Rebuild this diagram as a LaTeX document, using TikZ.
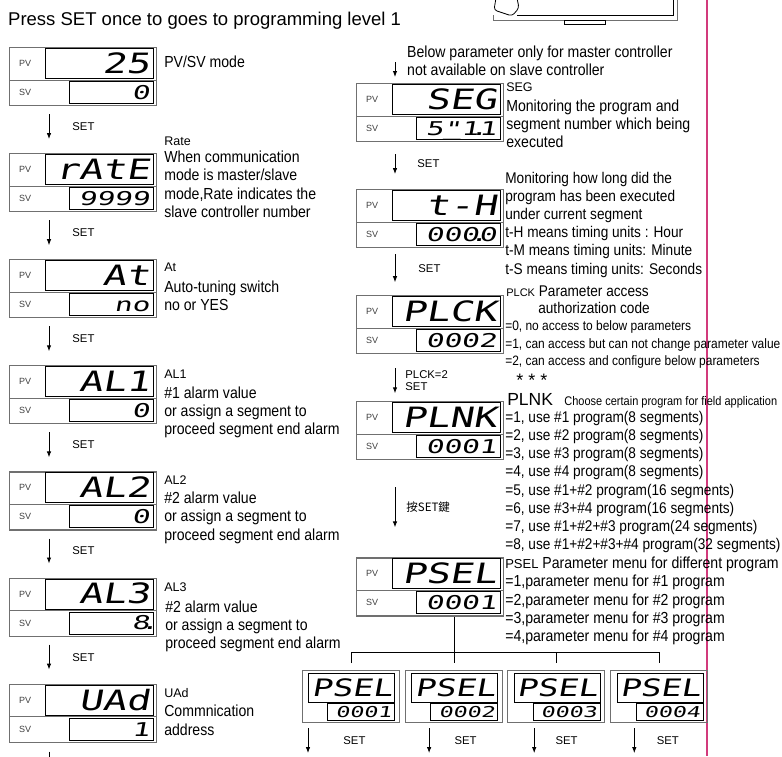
\documentclass[tikz,border=0pt]{standalone}
\usepackage{fontspec}
\setmainfont{Liberation Sans}
\newfontfamily\narrowfont{Liberation Sans}[FakeStretch=0.88]
\newfontfamily\pvfont{DejaVu Sans Mono}[FakeStretch=1.4,FakeSlant=0.18]
\newfontfamily\svfont{DejaVu Sans Mono}[FakeStretch=1.55,FakeSlant=0.18]
\newfontfamily\cjkfont{Noto Sans CJK TC}
\usetikzlibrary{positioning, calc, arrows.meta}
\definecolor{framegray}{HTML}{707070}
\definecolor{pagerule}{HTML}{D23A7C}

% controller front: frame, PV window, SV window
\newcommand{\ctrlpanel}[4]{%
  \node[panel, #2] (#1) {};
  \node[pvwin, anchor=north east] (#1-pv) at ([xshift=-3pt,yshift=-1pt]#1.north east) {#3};
  \node[svwin, anchor=north east] (#1-sv) at ([xshift=-3pt,yshift=-34pt]#1.north east) {#4};
  \draw[divider] ([yshift=-1.5pt]#1-pv.south -| #1.west) -- ([yshift=-1.5pt]#1-pv.south -| #1.east);
  \node[tag, anchor=west] (#1-pvtag) at ([xshift=10pt]#1.west |- #1-pv.west) {PV};
  \node[tag, anchor=west] (#1-svtag) at ([xshift=10pt]#1.west |- #1-sv.west) {SV};
}
% small PSEL front of the program menus
\newcommand{\menupanel}[3]{%
  \node[mpanel, #2] (#1) {};
  \node[mpvwin, anchor=north east] (#1-pv) at ([xshift=-5pt,yshift=-3pt]#1.north east) {PSEL};
  \node[msvwin, anchor=north east] (#1-sv) at ([xshift=-5pt,yshift=-33pt]#1.north east) {#3};
}

\begin{document}
\begin{tikzpicture}[
    x=1pt, y=-1pt,
    panel/.style={rectangle, draw=framegray, line width=1.1pt, minimum width=147pt, minimum height=58pt, inner sep=0pt},
    pvwin/.style={rectangle, draw=black, line width=0.8pt, minimum height=30pt, text width=100pt, inner xsep=4pt, inner ysep=0pt, align=right, text height=20pt, text depth=0pt, font=\pvfont\fontsize{28}{28}\selectfont},
    svwin/.style={rectangle, draw=black, line width=0.8pt, minimum height=22pt, text width=76pt, inner xsep=4pt, inner ysep=0pt, align=right, text height=14pt, text depth=0pt, font=\svfont\fontsize{19}{19}\selectfont},
    mpanel/.style={rectangle, draw=framegray, line width=1.1pt, minimum width=97pt, minimum height=52pt, inner sep=0pt},
    mpvwin/.style={rectangle, draw=black, line width=0.8pt, minimum height=29pt, text width=80pt, inner xsep=3pt, inner ysep=0pt, align=right, text height=17pt, text depth=0pt, font=\pvfont\fontsize{24}{24}\selectfont},
    msvwin/.style={rectangle, draw=black, line width=0.8pt, minimum height=17pt, text width=61pt, inner xsep=3pt, inner ysep=0pt, align=right, text height=11.5pt, text depth=0pt, font=\svfont\fontsize{15}{15}\selectfont},
    divider/.style={draw=framegray, line width=1pt},
    tag/.style={inner sep=0pt, text=black!75, font=\fontsize{9}{10}\selectfont},
    lbl/.style={inner sep=0pt, anchor=north west, font=\fontsize{12.5}{14}\selectfont},
    desc/.style={inner sep=0pt, anchor=north west, align=left, font=\narrowfont\fontsize{16}{18.4}\selectfont},
    descsm/.style={inner sep=0pt, anchor=north west, align=left, font=\narrowfont\fontsize{13.6}{17.5}\selectfont},
    setlbl/.style={inner sep=0pt, align=left, font=\fontsize{11.3}{12.5}\selectfont},
    flow/.style={-{Latex[length=6pt,width=4.5pt]}, line width=0.9pt},
    tree/.style={line width=0.9pt},
  ]
  \useasboundingbox (0,0) rectangle (782,756);
  \fill[white] (0,0) rectangle (782,756);

  % device sketch cut by the top edge, page rule
  \draw[framegray, line width=1pt] (493,15) -- (493,20) -- (677,20) -- (677,-2);
  \draw[line width=0.8pt] (517,15) -- (673,15) -- (673,-2);
  \draw[line width=0.8pt, rounded corners=3pt] (496,-2) -- (494,10) -- (512,16) -- (519,8) -- (517,-2);
  \draw[line width=0.8pt] (564,20) rectangle (605,24);
  \draw[pagerule, line width=1.2pt] (707,0) -- (707,756);

  \node[inner sep=0pt, anchor=north west, font=\fontsize{18.5}{20}\selectfont] (heading) at (8,12) {Press SET once to goes to programming level 1};

  % left column
  \ctrlpanel{pvsv}{at={(9,47)}, anchor=north west}{25}{0}
  \ctrlpanel{rate}{below=47pt of pvsv}{rAtE}{9999}
  \ctrlpanel{atune}{below=47pt of rate}{At}{no}
  \ctrlpanel{alone}{below=47pt of atune}{AL1}{0}
  \ctrlpanel{altwo}{below=47pt of alone}{AL2}{0}
  \ctrlpanel{althree}{below=47pt of altwo}{AL3}{8\makebox[0pt]{.}}
  \ctrlpanel{uad}{below=47pt of althree}{UAd}{1}

  \node[desc] (pvsv-txt) at ([xshift=7pt,yshift=-8.5pt]pvsv.north east) {PV/SV mode};
  \node[lbl] (rate-lbl) at ([xshift=7pt,yshift=16.5pt]rate.north east) {Rate};
  \node[desc, below right=5pt and 0pt of rate-lbl.south west] (rate-txt) {When communication\\mode is master/slave\\mode,Rate indicates the\\slave controller number};
  \node[lbl] (atune-lbl) at ([xshift=7pt,yshift=-3pt]atune.north east) {At};
  \node[desc, below right=9pt and 0pt of atune-lbl.south west] (atune-txt) {Auto-tuning switch\\no or YES};
  \node[lbl] (alone-lbl) at ([xshift=7pt,yshift=-4pt]alone.north east) {AL1};
  \node[desc, below right=8pt and 0pt of alone-lbl.south west] (alone-txt) {\#1 alarm value\\or assign a segment to\\proceed segment end alarm};
  \node[lbl] (altwo-lbl) at ([xshift=7pt,yshift=-4pt]altwo.north east) {AL2};
  \node[desc, below right=7pt and 0pt of altwo-lbl.south west] (altwo-txt) {\#2 alarm value\\or assign a segment to\\proceed segment end alarm};
  \node[lbl] (althree-lbl) at ([xshift=7pt,yshift=-5.5pt]althree.north east) {AL3};
  \node[desc, below right=8pt and 1pt of althree-lbl.south west] (althree-txt) {\#2 alarm value\\or assign a segment to\\proceed segment end alarm};
  \node[lbl] (uad-lbl) at ([xshift=7pt,yshift=-5pt]uad.north east) {UAd};
  \node[desc, below right=7pt and 0pt of uad-lbl.south west] (uad-txt) {Commnication\\address};

  \draw[flow] ([xshift=40pt,yshift=-8pt]pvsv.south west) -- ([xshift=40pt,yshift=14pt]rate.north west) node[setlbl, midway, right=23pt] (set-a) {SET};
  \draw[flow] ([xshift=40pt,yshift=-8pt]rate.south west) -- ([xshift=40pt,yshift=14pt]atune.north west) node[setlbl, midway, right=23pt] (set-b) {SET};
  \draw[flow] ([xshift=40pt,yshift=-8pt]atune.south west) -- ([xshift=40pt,yshift=14pt]alone.north west) node[setlbl, midway, right=23pt] (set-c) {SET};
  \draw[flow] ([xshift=40pt,yshift=-8pt]alone.south west) -- ([xshift=40pt,yshift=14pt]altwo.north west) node[setlbl, midway, right=23pt] (set-d) {SET};
  \draw[flow] ([xshift=40pt,yshift=-8pt]altwo.south west) -- ([xshift=40pt,yshift=14pt]althree.north west) node[setlbl, midway, right=23pt] (set-e) {SET};
  \draw[flow] ([xshift=40pt,yshift=-8pt]althree.south west) -- ([xshift=40pt,yshift=14pt]uad.north west) node[setlbl, midway, right=23pt] (set-f) {SET};
  \draw[line width=0.9pt] ([xshift=40pt,yshift=-9pt]uad.south west) -- ([xshift=40pt,yshift=-22pt]uad.south west);

  % middle column
  \ctrlpanel{seg}{at={(356,83)}, anchor=north west}{SEG}{5\rlap{\_}\symbol{34}1\makebox[0pt]{.}1}
  \ctrlpanel{timer}{below=47pt of seg}{t-H}{000\makebox[0pt]{.}0}
  \ctrlpanel{plck}{below=47pt of timer}{PLCK}{0002}
  \ctrlpanel{plnk}{below=47pt of plck}{PLNK}{0001}
  \ctrlpanel{psel}{below=97pt of plnk}{PSEL}{0001}

  \node[desc] (master-note) at ([xshift=51pt,yshift=37.5pt]seg.north west) {Below parameter only for master controller\\not available on slave controller};
  \node[lbl] (seg-lbl) at ([xshift=2pt,yshift=0pt]seg.north east) {SEG};
  \node[desc, below right=7pt and 0pt of seg-lbl.south west] (seg-txt) {Monitoring the program and\\segment number which being\\executed};
  \node[desc, font=\narrowfont\fontsize{15.5}{18.2}\selectfont] (timer-txt) at ([xshift=1pt,yshift=17.5pt]timer.north east) {Monitoring how long did the\\program has been executed\\under current segment\\t-H means timing units : Hour\\t-M means timing units: Minute\\t-S means timing units: Seconds};
  \node[desc, font=\narrowfont\fontsize{15.5}{17}\selectfont] (plck-txt) at ([xshift=2pt,yshift=9.5pt]plck.north east) {{\normalfont\fontsize{11}{13}\selectfont PLCK} Parameter access\\\hspace*{32pt}authorization code};
  \node[descsm] (plck-opts) at ([xshift=1pt,yshift=-25.5pt]plck.north east) {=0, no access to below parameters\\=1, can access but can not change parameter value\\=2, can access and configure below parameters};
  \node[inner sep=0pt, anchor=base west, font=\fontsize{18}{18}\selectfont] (stars) at ([xshift=12pt,yshift=15pt]plnk.north east) {* * *};
  \node[inner sep=0pt, anchor=base west, font=\fontsize{17.5}{20}\selectfont] (plnk-lbl) at ([xshift=3pt,yshift=-4pt]plnk.north east) {PLNK};
  \node[inner sep=0pt, anchor=base west, font=\narrowfont\fontsize{12.5}{14}\selectfont] (plnk-note) at ([xshift=11pt]plnk-lbl.base east) {Choose certain program for field application};
  \node[desc, font=\narrowfont\fontsize{15.5}{18.2}\selectfont] (plnk-opts) at ([xshift=1pt,yshift=-9.5pt]plnk.north east) {=1, use \#1 program(8 segments)\\=2, use \#2 program(8 segments)\\=3, use \#3 program(8 segments)\\=4, use \#4 program(8 segments)\\=5, use \#1+\#2 program(16 segments)\\=6, use \#3+\#4 program(16 segments)\\=7, use \#1+\#2+\#3 program(24 segments)\\=8, use \#1+\#2+\#3+\#4 program(32 segments)};
  \node[desc] (psel-opts) at ([xshift=1pt,yshift=1pt]psel.north east) {{\normalfont\fontsize{13}{15}\selectfont PSEL} Parameter menu for different program\\=1,parameter menu for \#1 program\\=2,parameter menu for \#2 program\\=3,parameter menu for \#3 program\\=4,parameter menu for \#4 program};

  \draw[flow] ([xshift=39pt,yshift=21pt]seg.north west) -- ([xshift=39pt,yshift=6pt]seg.north west);
  \draw[flow] ([xshift=39pt,yshift=-12pt]seg.south west) -- ([xshift=39pt,yshift=15pt]timer.north west) node[setlbl, midway, right=22pt] (set-g) {SET};
  \draw[flow] ([xshift=39pt,yshift=-6pt]timer.south west) -- ([xshift=39pt,yshift=13pt]plck.north west) node[setlbl, midway, right=23pt] (set-h) {SET};
  \draw[flow] ([xshift=39pt,yshift=-14pt]plck.south west) -- ([xshift=39pt,yshift=8pt]plnk.north west) node[setlbl, midway, right=10pt] (set-i) {PLCK=2\\SET};
  \draw[flow] ([xshift=39pt,yshift=-27pt]plnk.south west) -- ([xshift=39pt,yshift=30pt]psel.north west) node[midway, right=11pt, inner sep=0pt, font=\cjkfont\fontsize{11.5}{13}\selectfont] (set-j) {按SET鍵};

  % program menus
  \menupanel{menuA}{at={(302,670)}, anchor=north west}{0001}
  \menupanel{menuB}{right=5pt of menuA}{0002}
  \menupanel{menuC}{right=4pt of menuB}{0003}
  \menupanel{menuD}{right=5pt of menuC}{0004}

  \draw[tree] (psel.south -| menuB.north) -- ([yshift=7pt]menuB.north);
  \draw[tree] ([yshift=7pt]menuA.north) -- ([yshift=18pt]menuA.north) -- ([yshift=18pt]menuD.north) -- ([yshift=7pt]menuD.north);
  \draw[tree] ([yshift=18pt]menuC.north) -- ([yshift=7pt]menuC.north);

  \draw[flow] ([xshift=6pt,yshift=-5pt]menuA.south west) -- ([xshift=6pt,yshift=-30pt]menuA.south west) node[setlbl, midway, right=35pt] (set-k) {SET};
  \draw[flow] ([xshift=24pt,yshift=-5pt]menuB.south west) -- ([xshift=24pt,yshift=-30pt]menuB.south west) node[setlbl, midway, right=25pt] (set-l) {SET};
  \draw[flow] ([xshift=27pt,yshift=-5pt]menuC.south west) -- ([xshift=27pt,yshift=-30pt]menuC.south west) node[setlbl, midway, right=21pt] (set-m) {SET};
  \draw[flow] ([xshift=24pt,yshift=-5pt]menuD.south west) -- ([xshift=24pt,yshift=-30pt]menuD.south west) node[setlbl, midway, right=22pt] (set-n) {SET};
\end{tikzpicture}
\end{document}
